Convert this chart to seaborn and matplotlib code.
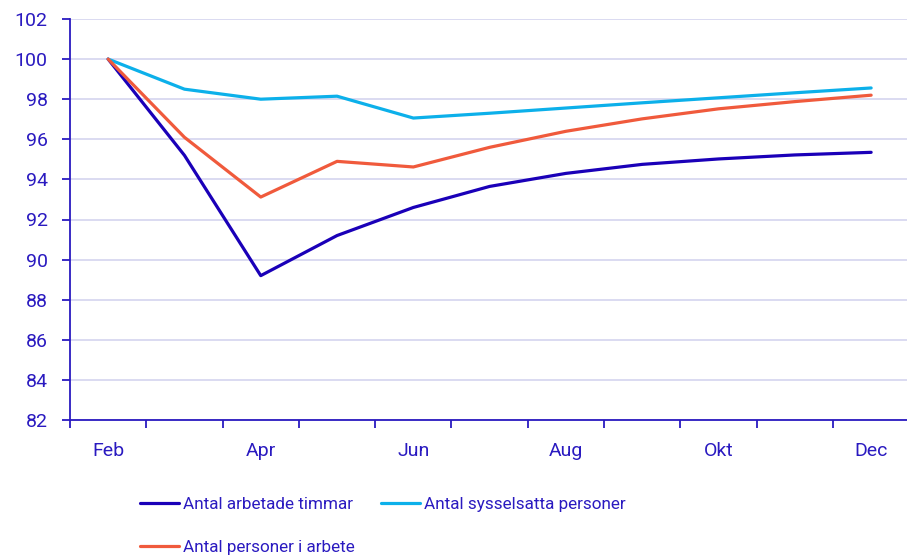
import pandas as pd
import seaborn as sns
import matplotlib.pyplot as plt

# data (index, Feb = 100)
months = ["Feb", "Mar", "Apr", "Maj", "Jun", "Jul", "Aug", "Sep", "Okt", "Nov", "Dec"]
timmar = [100, 95.2, 89.2, 91.2, 92.6, 93.65, 94.3, 94.75, 95.02, 95.22, 95.35]
sysselsatta = [100, 98.5, 98.0, 98.15, 97.06, 97.3, 97.56, 97.82, 98.07, 98.32, 98.56]
i_arbete = [100, 96.1, 93.12, 94.9, 94.62, 95.6, 96.4, 97.02, 97.52, 97.88, 98.2]

series_names = ["Antal arbetade timmar", "Antal sysselsatta personer", "Antal personer i arbete"]
colors = ["#1a00b8", "#0cb0ea", "#f05a3c"]
text_color = "#2a1ac0"

df = pd.DataFrame({
    "x": list(range(len(months))) * 3,
    "value": timmar + sysselsatta + i_arbete,
    "serie": [series_names[0]] * 11 + [series_names[1]] * 11 + [series_names[2]] * 11,
})

sns.set_style("white")
plt.rcParams["font.family"] = ["Roboto", "DejaVu Sans"]

fig = plt.figure(figsize=(9.07, 5.57), dpi=100)
ax = fig.add_axes([70 / 907, 1 - 420 / 557, 1 - 70 / 907, 401 / 557])

sns.lineplot(data=df, x="x", y="value", hue="serie", palette=colors,
             hue_order=series_names, linewidth=2.3, ax=ax, legend=False)

ax.set_xlim(-0.5, 10.47)
ax.set_ylim(82, 102)
ax.set_yticks(range(82, 103, 2))
ax.set_xticks(range(0, 11, 2))
ax.set_xticklabels(months[0::2])
ax.set_xticks([i - 0.5 for i in range(11)], minor=True)
ax.set_xlabel("")
ax.set_ylabel("")

ax.grid(axis="y", color="#d4d4ef", linewidth=1.2)
ax.set_axisbelow(True)
for s in ["top", "right"]:
    ax.spines[s].set_visible(False)
for s in ["left", "bottom"]:
    ax.spines[s].set_color(text_color)
    ax.spines[s].set_linewidth(1.3)

ax.tick_params(axis="y", colors=text_color, labelsize=14, length=6, width=1.3,
               direction="out", left=True, pad=10)
ax.tick_params(axis="x", which="major", colors=text_color, labelsize=14, length=0, pad=16)
ax.tick_params(axis="x", which="minor", color=text_color, length=6, width=1.3, direction="out", bottom=True)

lines = ax.get_lines()
handles = [lines[0], lines[2], lines[1]]
labels = [series_names[0], series_names[2], series_names[1]]
leg = fig.legend(handles, labels, ncol=2, loc="upper left", bbox_to_anchor=(0.154, 0.108),
                 frameon=False, fontsize=12.3, handlelength=2.3, handletextpad=0.25,
                 columnspacing=1.5, labelspacing=1.65, borderaxespad=0, borderpad=0)
for t in leg.get_texts():
    t.set_color(text_color)

fig.savefig("out.png", dpi=100)
